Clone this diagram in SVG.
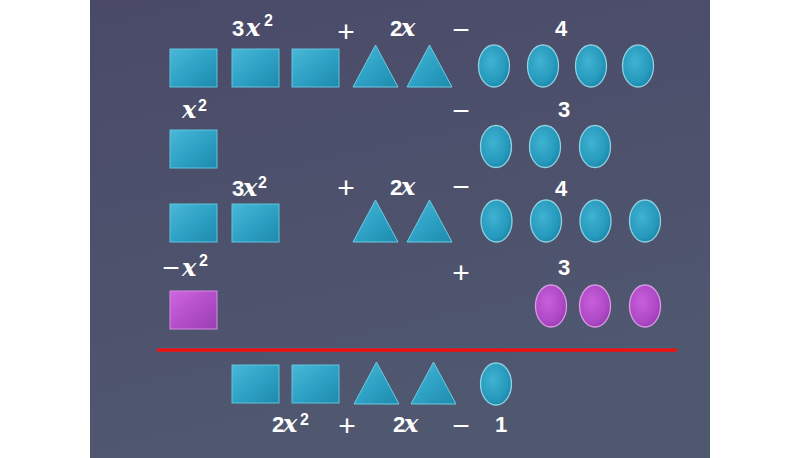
<svg xmlns="http://www.w3.org/2000/svg" xmlns:xlink="http://www.w3.org/1999/xlink" width="800" height="458" viewBox="0 0 800 458">
<style>
.n{font-family:"Liberation Sans",Arial,sans-serif;font-weight:bold;font-size:22px;fill:#fff}
.v{font-family:"DejaVu Serif","Liberation Serif",serif;font-weight:bold;font-style:italic;font-size:24px;fill:#fff}
.s{font-family:"Liberation Sans",Arial,sans-serif;font-weight:bold;font-size:16px;fill:#fff}
.o{font-family:"Liberation Sans",Arial,sans-serif;font-size:30px;fill:#fff;text-anchor:middle}
.sq{fill:url(#teal);stroke:#62c3de;stroke-width:1}
.tr{fill:url(#teal);stroke:#6ccae2;stroke-width:1}
.ov{fill:url(#tealR);stroke:#8fd0e2;stroke-width:1.3}
.psq{fill:url(#purp);stroke:#d98ae8;stroke-width:1}
.pov{fill:url(#purpR);stroke:#d99be6;stroke-width:1.3}
</style>
<defs>
<linearGradient id="bg" x1="0" y1="0" x2="0.3" y2="1">
<stop offset="0" stop-color="#4a4a68"/>
<stop offset="1" stop-color="#505870"/>
</linearGradient>
<linearGradient id="teal" x1="0" y1="0" x2="1" y2="1">
<stop offset="0" stop-color="#4ab8d8"/>
<stop offset="0.5" stop-color="#2ea2c5"/>
<stop offset="1" stop-color="#1d8aac"/>
</linearGradient>
<radialGradient id="tealR" cx="0.4" cy="0.4" r="0.7">
<stop offset="0" stop-color="#40b2d2"/>
<stop offset="0.7" stop-color="#2599bc"/>
<stop offset="1" stop-color="#167e9f"/>
</radialGradient>
<linearGradient id="purp" x1="0" y1="0" x2="1" y2="1">
<stop offset="0" stop-color="#cf66de"/>
<stop offset="0.5" stop-color="#b44fca"/>
<stop offset="1" stop-color="#9a3eb2"/>
</linearGradient>
<radialGradient id="purpR" cx="0.4" cy="0.4" r="0.7">
<stop offset="0" stop-color="#c95edb"/>
<stop offset="0.7" stop-color="#ad48c4"/>
<stop offset="1" stop-color="#9336ad"/>
</radialGradient>
<rect id="sqT" class="sq" width="47" height="38"/>
<rect id="sqP" class="psq" width="47" height="38"/>
<polygon id="triT" class="tr" points="0,42 22.5,0 45,42"/>
<ellipse id="ovT" class="ov" rx="15.5" ry="21"/>
<ellipse id="ovP" class="pov" rx="15.5" ry="21"/>
</defs>
<rect x="0" y="0" width="800" height="458" fill="#fff"/>
<rect x="90" y="0" width="620" height="458" fill="url(#bg)"/>

<g id="row1">
<g id="r1-label"><text y="36"><tspan x="232" class="n">3</tspan><tspan x="246" class="v">x</tspan><tspan x="264" y="26" class="s">2</tspan></text>
<text x="346" y="42" class="o">+</text>
<text y="36"><tspan x="390" class="n">2</tspan><tspan x="401" class="v">x</tspan></text>
<text x="461" y="40" class="o">−</text>
<text x="555" y="36" class="n">4</text></g>
<g id="r1-sq1"><use xlink:href="#sqT" x="170" y="49"/></g>
<g id="r1-sq2"><use xlink:href="#sqT" x="232" y="49"/></g>
<g id="r1-sq3"><use xlink:href="#sqT" x="292" y="49"/></g>
<g id="r1-tr1"><use xlink:href="#triT" x="353" y="45"/></g>
<g id="r1-tr2"><use xlink:href="#triT" x="407" y="45"/></g>
<g id="r1-ov1"><use xlink:href="#ovT" x="494" y="66"/></g>
<g id="r1-ov2"><use xlink:href="#ovT" x="543" y="66"/></g>
<g id="r1-ov3"><use xlink:href="#ovT" x="591" y="66"/></g>
<g id="r1-ov4"><use xlink:href="#ovT" x="638" y="66"/></g>
</g>

<g id="row2">
<g id="r2-label"><text y="118"><tspan x="182" class="v">x</tspan><tspan x="198" y="111" class="s">2</tspan></text>
<text x="461" y="121" class="o">−</text>
<text x="558" y="117" class="n">3</text></g>
<g id="r2-sq1"><use xlink:href="#sqT" x="170" y="130"/></g>
<g id="r2-ov1"><use xlink:href="#ovT" x="496" y="146.5"/></g>
<g id="r2-ov2"><use xlink:href="#ovT" x="545" y="146.5"/></g>
<g id="r2-ov3"><use xlink:href="#ovT" x="595" y="146.5"/></g>
</g>

<g id="row3">
<g id="r3-label"><text y="196"><tspan x="232" class="n">3</tspan><tspan x="243" class="v">x</tspan><tspan x="258" y="188" class="s">2</tspan></text>
<text x="346" y="198" class="o">+</text>
<text y="195"><tspan x="390" class="n">2</tspan><tspan x="401" class="v">x</tspan></text>
<text x="461" y="197" class="o">−</text>
<text x="555" y="196" class="n">4</text></g>
<g id="r3-sq1"><use xlink:href="#sqT" x="170" y="204"/></g>
<g id="r3-sq2"><use xlink:href="#sqT" x="232" y="204"/></g>
<g id="r3-tr1"><use xlink:href="#triT" x="353" y="200"/></g>
<g id="r3-tr2"><use xlink:href="#triT" x="407" y="200"/></g>
<g id="r3-ov1"><use xlink:href="#ovT" x="496.5" y="221"/></g>
<g id="r3-ov2"><use xlink:href="#ovT" x="546" y="221"/></g>
<g id="r3-ov3"><use xlink:href="#ovT" x="595.5" y="221"/></g>
<g id="r3-ov4"><use xlink:href="#ovT" x="645" y="221"/></g>
</g>

<g id="row4">
<g id="r4-label"><text x="171" y="278" class="o">−</text>
<text y="276"><tspan x="182" class="v">x</tspan><tspan x="199" y="266" class="s">2</tspan></text>
<text x="461" y="283" class="o">+</text>
<text x="558" y="275" class="n">3</text></g>
<g id="r4-sq1"><use xlink:href="#sqP" x="170" y="291"/></g>
<g id="r4-ov1"><use xlink:href="#ovP" x="551" y="306"/></g>
<g id="r4-ov2"><use xlink:href="#ovP" x="595" y="306"/></g>
<g id="r4-ov3"><use xlink:href="#ovP" x="645" y="306"/></g>
</g>

<g id="rule">
<line x1="157" y1="347.8" x2="677" y2="347.8" stroke="#2a6f8a" stroke-width="1"/>
<line x1="157" y1="350" x2="677" y2="350" stroke="#f01010" stroke-width="3.5"/>
</g>

<g id="result">
<g id="res-sq1"><use xlink:href="#sqT" x="232" y="365"/></g>
<g id="res-sq2"><use xlink:href="#sqT" x="292" y="365"/></g>
<g id="res-tr1"><use xlink:href="#triT" x="354" y="362"/></g>
<g id="res-tr2"><use xlink:href="#triT" x="411" y="362"/></g>
<g id="res-ov1"><use xlink:href="#ovT" x="496" y="384"/></g>
<g id="res-label"><text y="432"><tspan x="272" class="n">2</tspan><tspan x="283" class="v">x</tspan><tspan x="300" y="425" class="s">2</tspan></text>
<text x="347" y="436" class="o">+</text>
<text y="432"><tspan x="393" class="n">2</tspan><tspan x="404" class="v">x</tspan></text>
<text x="461" y="436" class="o">−</text>
<text x="495" y="432" class="n">1</text></g>
</g>
</svg>
